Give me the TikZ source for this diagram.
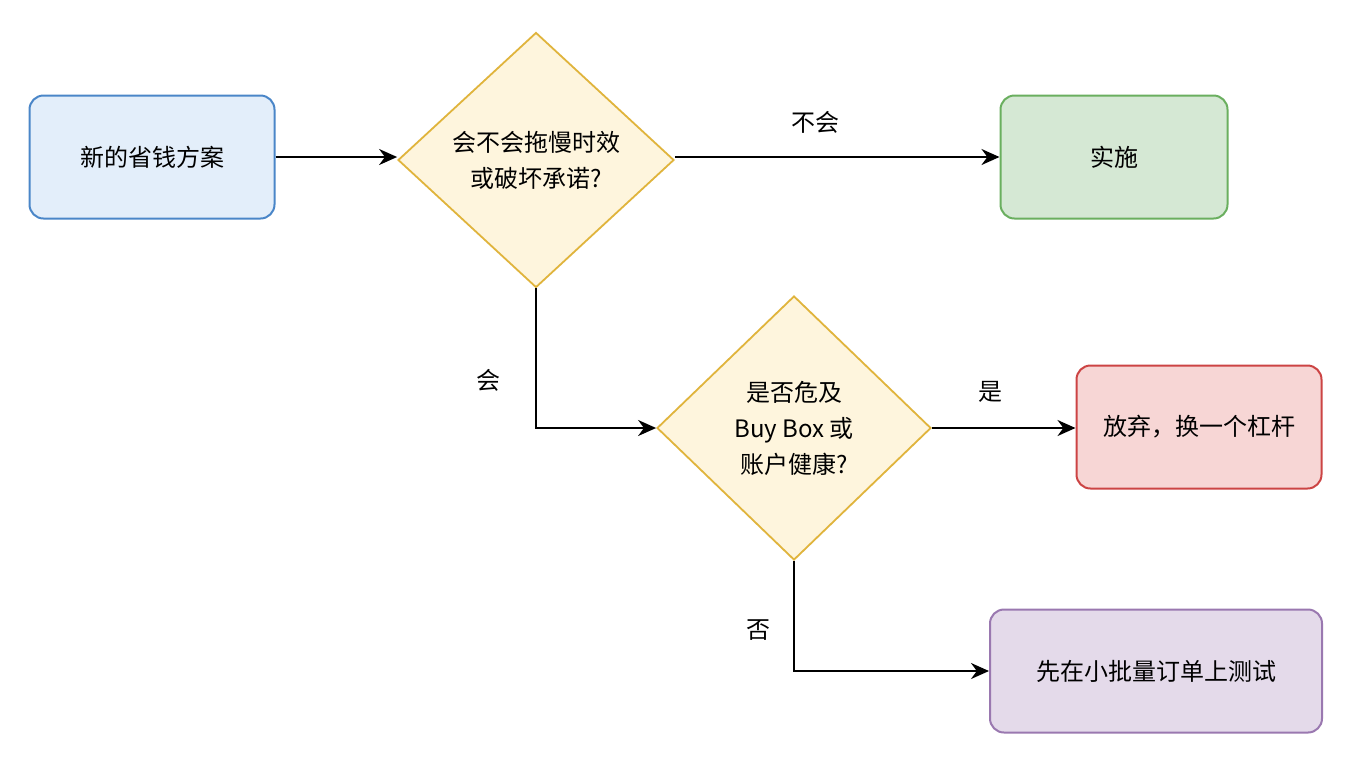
\documentclass[tikz,border=0pt]{standalone}
\usepackage{fontspec}
\setmainfont{Noto Sans CJK SC}
\usetikzlibrary{shapes.geometric,arrows.meta}
\definecolor{bS}{HTML}{4A86C8}\definecolor{bF}{HTML}{E3EEFA}
\definecolor{gS}{HTML}{6AAF5F}\definecolor{gF}{HTML}{D5E8D4}
\definecolor{yS}{HTML}{E0B43C}\definecolor{yF}{HTML}{FEF5DD}
\definecolor{rS}{HTML}{CC4444}\definecolor{rF}{HTML}{F7D6D5}
\definecolor{pS}{HTML}{9A78B0}\definecolor{pF}{HTML}{E4DAEA}
\begin{document}
\begin{tikzpicture}[x=0.5pt,y=-0.5pt,
  box/.style={draw, line width=1pt, rounded corners=7pt, align=center, font=\fontsize{12}{15}\selectfont},
  dia/.style={draw, diamond, line width=0.9pt, align=center, inner sep=0pt, font=\fontsize{12}{18}\selectfont, draw=yS, fill=yF},
  arr/.style={-{Stealth[length=9pt,width=8pt]}, line width=1pt},
  lab/.style={font=\fontsize{12}{15}\selectfont}]
\useasboundingbox (0,0) rectangle (1360,768);
\fill[white] (0,0) rectangle (1360,768);
\node[box, draw=bS, fill=bF, minimum width=122.5pt, minimum height=61.5pt] (a) at (152,157) {新的省钱方案};
\node[dia, minimum width=138pt, minimum height=127.5pt] (d1) at (536,160) {会不会拖慢时效\\或破坏承诺?};
\node[box, draw=gS, fill=gF, minimum width=113.5pt, minimum height=61.5pt] (b) at (1114,157) {实施};
\node[dia, minimum width=137pt, minimum height=132pt] (d2) at (794,428) {是否危及\\Buy Box 或\\账户健康?};
\node[box, draw=rS, fill=rF, minimum width=122.5pt, minimum height=61.5pt] (c) at (1199,427) {放弃，换一个杠杆};
\node[box, draw=pS, fill=pF, minimum width=166pt, minimum height=61.5pt] (t) at (1156,671) {先在小批量订单上测试};
\draw[arr] (a.east) -- (a.east -| d1.west);
\draw[arr] (b.west -| d1.east) -- (b.west);
\draw[arr] (d1.south) |- (d2.west);
\draw[arr] (d2.east) -- (c.west |- d2.east);
\draw[arr] (d2.south) |- (t.west);
\node[lab] (l1) at (815,122) {不会};
\node[lab] (l2) at (488,380) {会};
\node[lab] (l3) at (990,392) {是};
\node[lab] (l4) at (758,630) {否};
\end{tikzpicture}
\end{document}
